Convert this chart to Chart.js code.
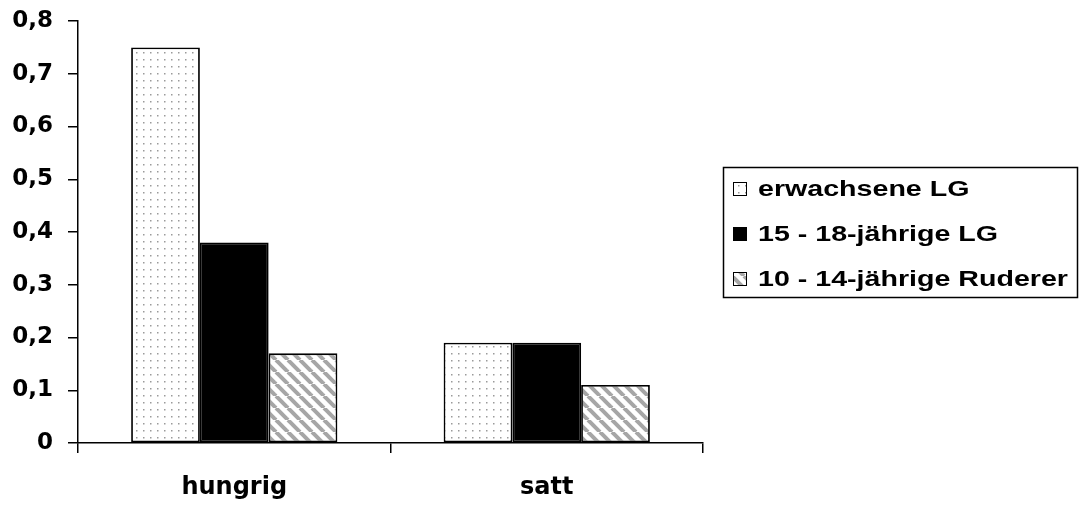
<!DOCTYPE html>
<html>
<head>
<meta charset="utf-8">
<script src="https://cdn.jsdelivr.net/npm/chart.js@4/dist/chart.umd.min.js"></script>
<style>
  html, body { margin: 0; padding: 0; background: #fff; }
  canvas { display: block; }
</style>
</head>
<body>
<canvas id="c" width="1080" height="506"></canvas>
<script>
// Categories and series values
const categories = ['hungrig', 'satt'];
const seriesNames = ['erwachsene LG', '15 - 18-jährige LG', '10 - 14-jährige Ruderer'];
const erwachseneLG = [0.75, 0.19];
const jugendLG = [0.38, 0.19];
const kinderRuderer = [0.17, 0.11];
const yTickLabels = ['0', '0,1', '0,2', '0,3', '0,4', '0,5', '0,6', '0,7', '0,8'];

// Fill patterns: fine dots, solid black, grey diagonal hatching
function dotPattern() {
  const t = document.createElement('canvas');
  t.width = 7; t.height = 7;
  const g = t.getContext('2d');
  g.fillStyle = '#fff'; g.fillRect(0, 0, 7, 7);
  g.fillStyle = '#9a9a9a'; g.fillRect(3, 3, 1.5, 1.5);
  return g.createPattern(t, 'repeat');
}
function hatchPattern() {
  const s = 12;
  const t = document.createElement('canvas');
  t.width = s; t.height = s;
  const g = t.getContext('2d');
  g.fillStyle = '#fff'; g.fillRect(0, 0, s, s);
  g.strokeStyle = '#a6a6a6'; g.lineWidth = 4;
  for (const o of [-s, 0, s]) {
    g.beginPath(); g.moveTo(o, 0); g.lineTo(o + s, s); g.stroke();
  }
  return g.createPattern(t, 'repeat');
}
const ctx = document.getElementById('c').getContext('2d');
const fills = [dotPattern(), '#000', hatchPattern()];
const series = [erwachseneLG, jugendLG, kinderRuderer];

// Boxed legend on the right
const boxLegend = {
  id: 'boxLegend',
  afterDraw(chart) {
    const c = chart.ctx;
    const box = { x: 723.5, y: 167.5, w: 354, h: 130 };
    const rows = [189, 234, 279];
    c.save();
    c.strokeStyle = '#000'; c.lineWidth = 1.5;
    c.strokeRect(box.x, box.y, box.w, box.h);
    chart.data.datasets.forEach((ds, i) => {
      const cy = rows[i];
      c.fillStyle = ds.backgroundColor;
      c.fillRect(733, cy - 7, 14, 14);
      c.lineWidth = 1; c.strokeStyle = '#000';
      c.strokeRect(733.5, cy - 6.5, 13, 13);
      c.save();
      c.translate(758, cy);
      c.scale(1.3, 1);
      c.fillStyle = '#000';
      c.font = 'bold 22px "Liberation Sans", Arial, sans-serif';
      c.textBaseline = 'middle';
      c.textAlign = 'left';
      c.fillText(ds.label, 0, 1);
      c.restore();
    });
    c.restore();
  }
};

new Chart(ctx, {
  type: 'bar',
  data: {
    labels: categories,
    datasets: series.map((vals, i) => ({
      label: seriesNames[i],
      data: vals,
      backgroundColor: fills[i],
      borderColor: '#000',
      borderWidth: 1.8,
      borderSkipped: false,
      barPercentage: 1.0,
      categoryPercentage: 0.66
    }))
  },
  options: {
    responsive: false,
    animation: false,
    devicePixelRatio: 1,
    layout: { padding: { top: 21, right: 377, left: 0, bottom: 0 } },
    plugins: { legend: { display: false }, tooltip: { enabled: false } },
    scales: {
      x: {
        grid: { display: true, offset: true, drawOnChartArea: false, drawTicks: true, tickLength: 10, color: '#000', lineWidth: 1.5 },
        border: { display: true, color: '#000', width: 1.5 },
        ticks: { color: '#000', padding: 20, font: { family: '"DejaVu Sans"', weight: 'bold', size: 24 } },
        afterFit(scale) { scale.height = 63; scale.paddingLeft = 0; scale.paddingRight = 0; }
      },
      y: {
        min: 0, max: 0.8,
        ticks: {
          stepSize: 0.1,
          color: '#000',
          padding: 15,
          font: { family: '"DejaVu Sans"', weight: 'bold', size: 23 },
          callback: (v, i) => yTickLabels[i]
        },
        grid: { display: true, drawOnChartArea: false, drawTicks: true, tickLength: 10, color: '#000', lineWidth: 1.5 },
        border: { display: true, color: '#000', width: 1.5 },
        afterFit(scale) { scale.width = 78; scale.paddingTop = 0; scale.paddingBottom = 0; }
      }
    }
  },
  plugins: [boxLegend]
});
</script>
</body>
</html>
